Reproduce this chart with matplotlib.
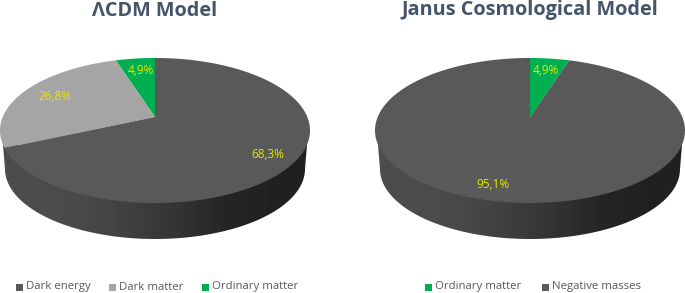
import numpy as np
import matplotlib
matplotlib.use("Agg")
import matplotlib.pyplot as plt
from matplotlib.patches import Polygon, Rectangle

plt.rcParams['font.family'] = ['Open Sans', 'DejaVu Sans']

# left chart
lcdm_labels = ['Ordinary matter', 'Dark matter', 'Dark energy']
lcdm_values = [4.9, 26.8, 68.3]
lcdm_texts = ['4,9%', '26,8%', '68,3%']
lcdm_legend = ['Dark energy', 'Dark matter', 'Ordinary matter']

# right chart
janus_labels = ['Ordinary matter', 'Negative masses']
janus_values = [4.9, 95.1]
janus_texts = ['4,9%', '95,1%']
janus_legend = ['Ordinary matter', 'Negative masses']

colors = {'Dark energy': '#595959', 'Dark matter': '#a5a5a5',
          'Ordinary matter': '#00b050', 'Negative masses': '#595959'}

title_color = '#44546a'
label_color = '#e6e600'
legend_color = '#595959'

# perspective of the tilted disc
R = 152.3
A = 70.0
K = 0.186


def project(cx, cy, ang):
    # ang in radians, clockwise from the top
    u, v = np.sin(ang), np.cos(ang)
    w = 1 + K * v
    return cx + R * u / w, cy - A * v / w


def draw_side(ax, cx):
    # lower edge of the cylinder, filled with a left-right gradient
    t = np.linspace(np.pi, 2 * np.pi, 100)
    xs = cx + 150 * np.cos(t)
    ys = 169 - 70 * np.sin(t)
    pts = [(cx - 152, 145)] + list(zip(xs, ys)) + [(cx + 152, 145)]
    clip = Polygon(pts, closed=True, fc='none', ec='none', transform=ax.transData)
    ax.add_patch(clip)
    grad = np.array([[0.30, 0.29, 0.25, 0.20, 0.14, 0.13]])
    im = ax.imshow(grad, cmap='gray', vmin=0, vmax=1, aspect='auto',
                   extent=(cx - 152, cx + 152, 240, 140), interpolation='bilinear', zorder=1)
    im.set_clip_path(clip)


def draw_pie(ax, cx, cy, values, labels, sign):
    start = 0.0
    total = sum(values)
    for val, lab in zip(values, labels):
        a = sign * np.linspace(start, start + val, 200) / total * 2 * np.pi
        x, y = project(cx, cy, a)
        ax.fill(np.r_[cx, x], np.r_[cy, y], color=colors[lab], lw=0, zorder=2)
        start += val


def draw_legend(ax, x, names, step):
    for name in names:
        ax.add_patch(Rectangle((x, 283.5), 7, 7, fc=colors[name], ec='none'))
        ax.text(x + 10, 287, name, fontsize=8.2, color=legend_color, va='center', ha='left')
        x += step


fig = plt.figure(figsize=(6.85, 2.93), dpi=100)
ax = fig.add_axes([0, 0, 1, 1])

draw_side(ax, 155)
draw_side(ax, 530)
draw_pie(ax, 155, 117, lcdm_values, lcdm_labels, -1)
draw_pie(ax, 530, 117, janus_values, janus_labels, 1)

ax.set_xlim(0, 685)
ax.set_ylim(293, 0)
ax.axis('off')

ax.text(155, 15.5, '\u039bCDM Model', fontsize=14.3, fontweight='bold', color=title_color, ha='center', va='baseline')
ax.text(530, 15.5, 'Janus Cosmological Model', fontsize=14.3, fontweight='bold', color=title_color, ha='center', va='baseline')

# data labels
for (x, y), t in zip([(141, 70), (55, 96), (268, 154)], lcdm_texts):
    ax.text(x, y, t, fontsize=8.5, color=label_color, ha='center', va='center')
for (x, y), t in zip([(546, 71), (493, 185)], janus_texts):
    ax.text(x, y, t, fontsize=8.5, color=label_color, ha='center', va='center')

draw_legend(ax, 16, lcdm_legend, 93)
draw_legend(ax, 425, janus_legend, 117)

fig.savefig('out.png', dpi=100)
